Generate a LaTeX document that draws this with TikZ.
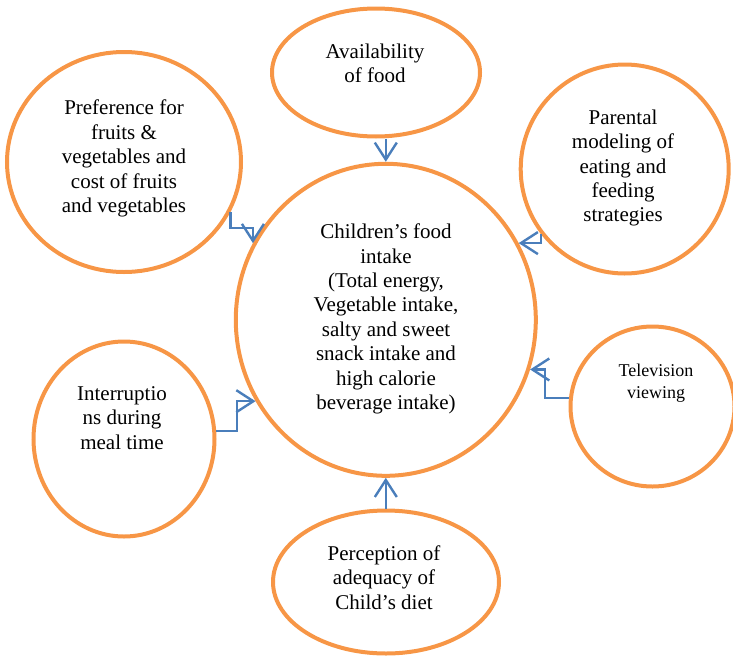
\documentclass[tikz,border=0pt]{standalone}
\usepackage{fontspec}
\setmainfont{Liberation Serif}
\usetikzlibrary{arrows.meta,shapes.geometric}
\definecolor{ringorange}{HTML}{F79646}
\definecolor{linkblue}{HTML}{4A7EBB}
\tikzset{
	ring/.style={ellipse, draw=ringorange, line width=4pt, inner sep=0pt},
	link/.style={draw=linkblue, line width=2.4pt, -{Straight Barb[length=17pt,width=22pt]}},
	txt/.style={align=center, inner sep=0pt, font=\fontsize{21}{24.4}\selectfont},
}

\begin{document}
\begin{tikzpicture}[x=1pt, y=-1pt]
			%%%%% START %%%%%
			\useasboundingbox (0, 0) rectangle (733, 656);
			
			\node[ring, minimum width=300pt, minimum height=312pt] (food) at (385.8, 319.8) {};
			\node[ring, minimum width=208pt, minimum height=128pt] (avail) at (376, 72.5) {};
			\node[ring, minimum width=234pt, minimum height=220pt] (pref) at (124, 162) {};
			\node[ring, minimum width=208pt, minimum height=209pt] (par) at (624.7, 169) {};
			\node[ring, minimum width=181pt, minimum height=195pt] (intr) at (124, 439) {};
			\node[ring, minimum width=164pt, minimum height=160pt] (tv) at (652.5, 406.5) {};
			\node[ring, minimum width=226pt, minimum height=143pt] (percep) at (386, 582) {};
			
			\node[txt] (foodtxt) at (386, 319) {Children’s food\\intake\\(Total energy,\\Vegetable intake,\\salty and sweet\\snack intake and\\high calorie\\beverage intake)};
			\node[txt] (availtxt) at (375, 63.3) {Availability\\of food};
			\node[txt] (preftxt) at (124, 158.5) {Preference for\\fruits \&\\vegetables and\\cost of fruits\\and vegetables};
			\node[txt] (partxt) at (623, 168) {Parental\\modeling of\\eating and\\feeding\\strategies};
			\node[txt] (intrtxt) at (122, 418) {Interruptio\\ns during\\meal time};
			\node[txt, font=\fontsize{18}{21.3}\selectfont] (tvtxt) at (656, 383.3) {Television\\viewing};
			\node[txt] (perctxt) at (384, 577.5) {Perception of\\adequacy of\\Child’s diet};
			
			\draw[link] (avail.south -| food.north) -- (food.north);
			\draw[link] (percep.north -| food.south) -- (food.south);
			\draw[link] (pref.-25) -- ++(0, 16) -| (food.150.5);
			\draw[link] (par.218) |- (food.30);
			\draw[link] (tv.174) -- ++(-24, 0) |- (food.-19);
			\draw[link] (intr.5) -- ++(21, 0) |- (food.212);
			%%%%% END %%%%%
\end{tikzpicture}
\end{document}
